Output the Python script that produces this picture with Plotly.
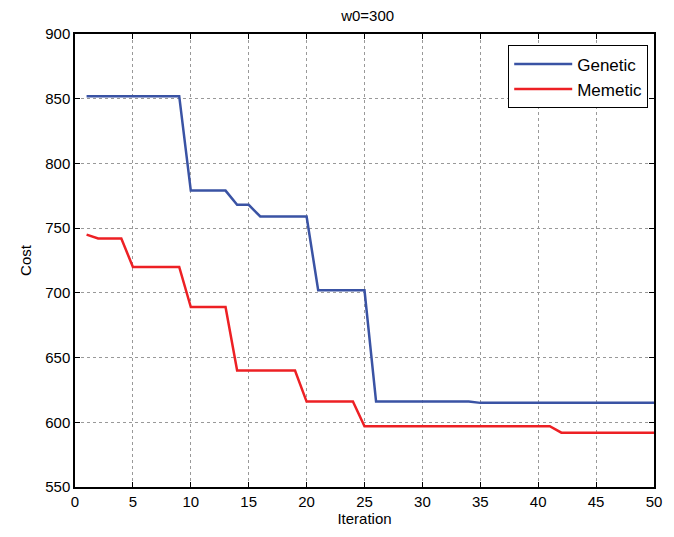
import plotly.graph_objects as go

iterations = list(range(1, 51))
genetic = ([852]*9 + [779]*4 + [768]*2 + [759]*5 + [702]*5 + [616]*9 + [615]*16)
memetic = ([745] + [742]*3 + [720]*5 + [689]*4 + [640]*6 + [616]*5 + [597]*17 + [592]*9)

x_ticks = [0, 5, 10, 15, 20, 25, 30, 35, 40, 45, 50]
y_ticks = [550, 600, 650, 700, 750, 800, 850, 900]

fig = go.Figure()
fig.add_trace(go.Scatter(x=iterations, y=genetic, mode="lines", name="Genetic",
                         line=dict(color="#3A53A4", width=2.5)))
fig.add_trace(go.Scatter(x=iterations, y=memetic, mode="lines", name="Memetic",
                         line=dict(color="#ED2024", width=2.5)))

axis_common = dict(showline=True, linecolor="black", linewidth=1.5, mirror="ticks",
                   ticks="inside", ticklen=5, tickcolor="black",
                   showgrid=True, gridcolor="#999999", griddash="dot", gridwidth=1,
                   zeroline=False, tickfont=dict(size=15, color="black"))

fig.update_layout(
    width=666, height=529,
    margin=dict(l=67, r=20, t=26, b=40),
    paper_bgcolor="white", plot_bgcolor="white",
    font=dict(family="Liberation Sans, Arial, sans-serif", color="black"),
    title=dict(text="w0=300", x=0.54, xanchor="center", y=0.995, yanchor="top",
               font=dict(size=15)),
    xaxis=dict(range=[0, 50], tickvals=x_ticks, title=dict(text="Iteration", font=dict(size=15), standoff=5),
               **axis_common),
    yaxis=dict(range=[550, 900], tickvals=y_ticks, title=dict(text="Cost", font=dict(size=15), standoff=10),
               **axis_common),
    legend=dict(x=0.99, xanchor="right", y=0.975, yanchor="top",
                bordercolor="black", borderwidth=1, bgcolor="white",
                font=dict(size=17), tracegroupgap=0, itemwidth=58),
    showlegend=True,
)

fig.write_html("out.html")
